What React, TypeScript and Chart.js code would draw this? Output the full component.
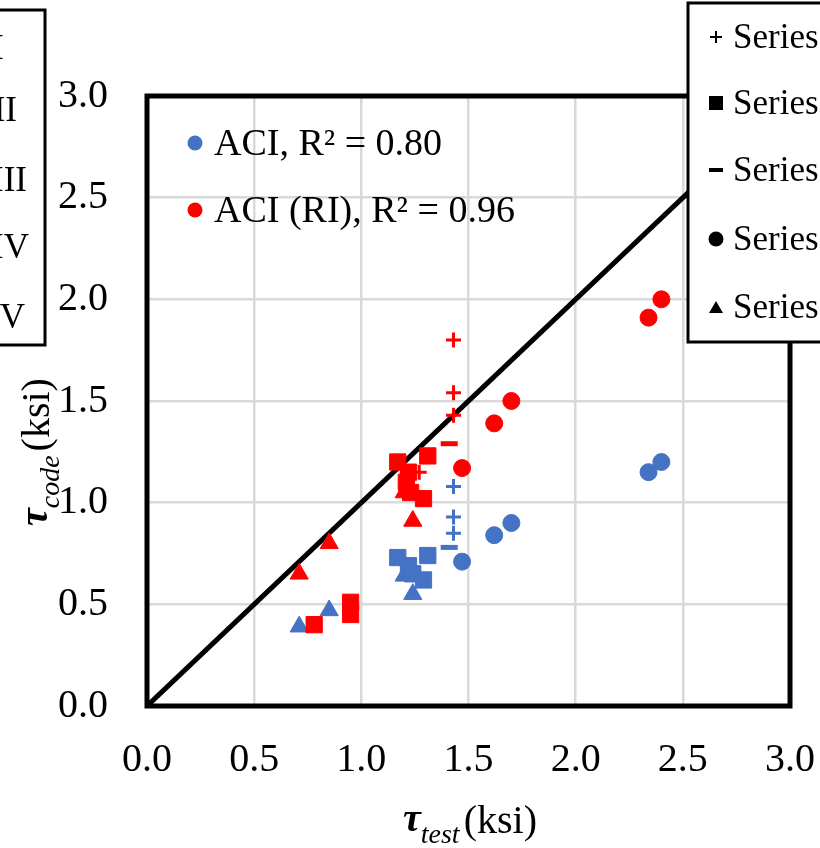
import React, { useEffect, useRef } from "react";
import { Chart, registerables } from "chart.js";
Chart.register(...registerables);

const BLUE = "#4472C4";
const RED = "#FF0000";
const FONT = "'Liberation Serif', 'Times New Roman', serif";

// Axis ticks
const tickValues = [0, 0.5, 1.0, 1.5, 2.0, 2.5, 3.0];

// Series I (+)
const s1AciX = [1.43, 1.43, 1.43];
const s1AciY = [1.08, 0.93, 0.85];
const s1RiX = [1.43, 1.43, 1.43, 1.27];
const s1RiY = [1.80, 1.54, 1.43, 1.15];
// Series II (square)
const s2AciX = [1.17, 1.31, 1.22, 1.24, 1.29];
const s2AciY = [0.73, 0.74, 0.69, 0.65, 0.62];
const s2RiX = [1.17, 1.31, 1.22, 1.21, 1.23, 1.29, 0.78, 0.95, 0.95];
const s2RiY = [1.20, 1.23, 1.15, 1.10, 1.05, 1.02, 0.40, 0.51, 0.45];
// Series III (dash)
const s3AciX = [1.41];
const s3AciY = [0.78];
const s3RiX = [1.41];
const s3RiY = [1.29];
// Series IV (circle)
const s4X = [1.47, 1.62, 1.70, 2.34, 2.40];
const s4AciY = [0.71, 0.84, 0.90, 1.15, 1.20];
const s4RiY = [1.17, 1.39, 1.50, 1.91, 2.00];
// Series V (triangle)
const s5AciX = [0.71, 0.85, 1.24, 1.20];
const s5AciY = [0.39, 0.47, 0.55, 0.64];
const s5RiX = [0.71, 0.85, 1.24, 1.20];
const s5RiY = [0.65, 0.80, 0.91, 1.05];
// 1:1 line
const lineX = [0, 3];
const lineY = [0, 3];

const legendLabels = ["ACI, R\u00B2 = 0.80", "ACI (RI), R\u00B2 = 0.96"];
const seriesNames = ["Series I", "Series II", "Series III", "Series IV", "Series V"];

const pts = (xs: number[], ys: number[]) => xs.map((x, i) => ({ x, y: ys[i] }));

function ds(xs: number[], ys: number[], color: string, style: string, radius: number, bw: number) {
  return {
    type: "scatter" as const,
    data: pts(xs, ys),
    pointStyle: style,
    pointRadius: radius,
    pointHoverRadius: radius,
    backgroundColor: color,
    borderColor: color,
    pointBorderWidth: bw,
    borderWidth: bw,
    order: 0,
  };
}

const overlay = {
  id: "overlay",
  afterDraw(chart: any) {
    const ctx: CanvasRenderingContext2D = chart.ctx;
    const a = chart.chartArea;
    ctx.save();
    // plot border
    ctx.strokeStyle = "#000";
    ctx.lineWidth = 5;
    ctx.strokeRect(a.left, a.top, a.right - a.left, a.bottom - a.top);

    // inner legend
    ctx.textBaseline = "middle";
    ctx.textAlign = "left";
    ctx.font = `38px ${FONT}`;
    const inner = [
      { c: BLUE, y: 143 },
      { c: RED, y: 210 },
    ];
    inner.forEach((it, i) => {
      ctx.fillStyle = it.c;
      ctx.beginPath();
      ctx.arc(195, it.y, 7.5, 0, Math.PI * 2);
      ctx.fill();
      ctx.fillStyle = "#000";
      ctx.fillText(legendLabels[i], 214, it.y + 2);
    });

    // right legend box (cropped)
    ctx.fillStyle = "#fff";
    ctx.fillRect(688, 3, 200, 339);
    ctx.strokeStyle = "#000";
    ctx.lineWidth = 3;
    ctx.strokeRect(688, 3, 200, 339);
    const rows = [37, 103, 170, 239, 307];
    const mx = 716;
    ctx.fillStyle = "#000";
    ctx.font = `35px ${FONT}`;
    rows.forEach((y, i) => {
      ctx.fillStyle = "#000";
      ctx.strokeStyle = "#000";
      if (i === 0) {
        ctx.lineWidth = 2;
        ctx.beginPath();
        ctx.moveTo(mx - 6, y);
        ctx.lineTo(mx + 6, y);
        ctx.moveTo(mx, y - 6);
        ctx.lineTo(mx, y + 6);
        ctx.stroke();
      } else if (i === 1) {
        ctx.fillRect(mx - 7, y - 7, 14, 14);
      } else if (i === 2) {
        ctx.fillRect(mx - 7, y - 2, 14, 4);
      } else if (i === 3) {
        ctx.beginPath();
        ctx.arc(mx, y, 7.5, 0, Math.PI * 2);
        ctx.fill();
      } else {
        ctx.beginPath();
        ctx.moveTo(mx, y - 6);
        ctx.lineTo(mx + 7, y + 6);
        ctx.lineTo(mx - 7, y + 6);
        ctx.closePath();
        ctx.fill();
      }
      ctx.textAlign = "left";
      ctx.fillText("Series", 733, y + 2);
    });

    // left legend box (cropped)
    ctx.fillStyle = "#fff";
    ctx.fillRect(-200, 10, 245, 335);
    ctx.strokeStyle = "#000";
    ctx.lineWidth = 3;
    ctx.strokeRect(-200, 10, 245, 335);
    const lrows = [48, 110, 180, 247, 317];
    const lend = [4, 17, 27, 29, 25];
    ctx.fillStyle = "#000";
    ctx.textAlign = "right";
    lrows.forEach((y, i) => {
      ctx.fillText(seriesNames[i], lend[i], y + 2);
    });

    // axis titles
    const drawTitle = (sub: string) => {
      let x = 0;
      ctx.textAlign = "left";
      ctx.textBaseline = "alphabetic";
      ctx.font = `bold italic 40px ${FONT}`;
      ctx.fillText("\u03C4", x, -2);
      x += ctx.measureText("\u03C4").width;
      ctx.font = `italic 28px ${FONT}`;
      ctx.fillText(sub, x, 10);
      x += ctx.measureText(sub).width + 4;
      ctx.font = `40px ${FONT}`;
      ctx.fillText("(ksi)", x, 0);
    };
    ctx.save();
    ctx.translate(403, 833);
    drawTitle("test");
    ctx.restore();
    ctx.save();
    ctx.translate(49, 526);
    ctx.rotate(-Math.PI / 2);
    drawTitle("code");
    ctx.restore();

    ctx.restore();
  },
};

export default function App() {
  const ref = useRef<HTMLCanvasElement | null>(null);
  useEffect(() => {
    if (!ref.current) return;
    const chart = new Chart(ref.current, {
      type: "scatter",
      data: {
        datasets: [
          ds(s1RiX, s1RiY, RED, "cross", 7.5, 3),
          ds(s3RiX, s3RiY, RED, "line", 8.5, 5),
          ds(s4X, s4RiY, RED, "circle", 8.5, 1),
          ds(s2RiX, s2RiY, RED, "rect", 11.5, 1),
          ds(s5RiX, s5RiY, RED, "triangle", 10.5, 1),
          ds(s1AciX, s1AciY, BLUE, "cross", 7.5, 3),
          ds(s3AciX, s3AciY, BLUE, "line", 8.5, 5),
          ds(s4X, s4AciY, BLUE, "circle", 8.5, 1),
          ds(s2AciX, s2AciY, BLUE, "rect", 11.5, 1),
          ds(s5AciX, s5AciY, BLUE, "triangle", 10.5, 1),
          {
            type: "line" as const,
            data: pts(lineX, lineY),
            borderColor: "#000",
            borderWidth: 5,
            pointRadius: 0,
            showLine: true,
            fill: false,
            order: 1,
          } as any,
        ],
      },
      options: {
        responsive: false,
        devicePixelRatio: 1,
        animation: false,
        layout: { padding: { left: 0, top: 96, right: 30, bottom: 0 } },
        plugins: {
          legend: { display: false },
          tooltip: { enabled: false },
        },
        scales: {
          x: {
            type: "linear",
            min: 0,
            max: 3,
            afterBuildTicks: (s: any) => {
              s.ticks = tickValues.map((v) => ({ value: v }));
            },
            afterFit: (s: any) => {
              s.height = 142;
              s.paddingLeft = 0;
              s.paddingRight = 0;
            },
            ticks: {
              callback: (v: any) => Number(v).toFixed(1),
              font: { family: FONT, size: 40 },
              color: "#000",
              padding: 30,
              maxRotation: 0,
            },
            grid: { color: "#d9d9d9", lineWidth: 2.5, drawTicks: false },
            border: { display: false },
          },
          y: {
            type: "linear",
            min: 0,
            max: 3,
            afterBuildTicks: (s: any) => {
              s.ticks = tickValues.map((v) => ({ value: v }));
            },
            afterFit: (s: any) => {
              s.width = 147;
              s.paddingTop = 0;
              s.paddingBottom = 0;
            },
            ticks: {
              callback: (v: any) => Number(v).toFixed(1),
              font: { family: FONT, size: 40 },
              color: "#000",
              padding: 39,
            },
            grid: { color: "#d9d9d9", lineWidth: 2.5, drawTicks: false },
            border: { display: false },
          },
        },
      } as any,
      plugins: [overlay],
    });
    return () => chart.destroy();
  }, []);
  return (
    <div style={{ position: "fixed", left: 0, top: 0, width: 820, height: 848, background: "#fff" }}>
      <canvas ref={ref} width={820} height={848} style={{ display: "block" }} />
    </div>
  );
}
